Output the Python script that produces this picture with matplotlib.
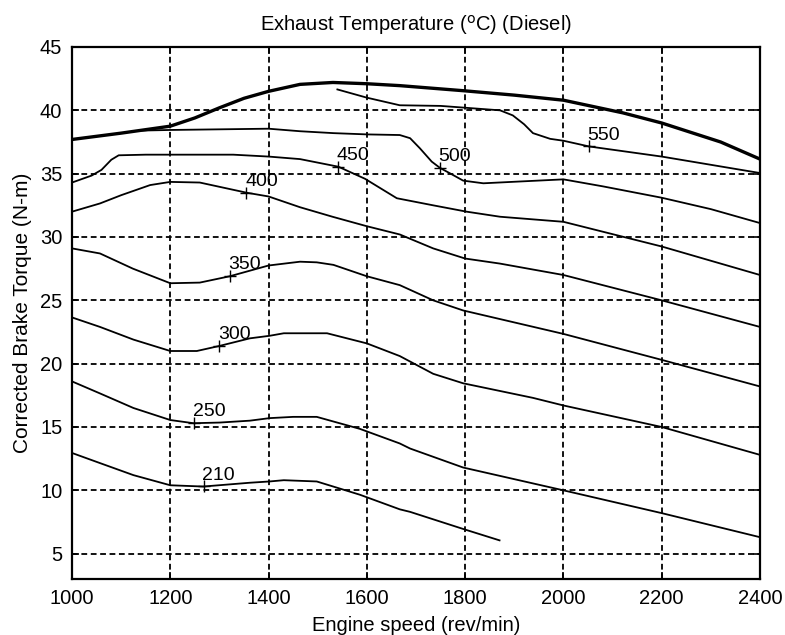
import numpy as np
import matplotlib
matplotlib.use("Agg")
import matplotlib.pyplot as plt

plt.rcParams['font.family'] = ['Liberation Sans', 'DejaVu Sans']

# full-load (max torque) envelope
env_rpm = [1000, 1100, 1200, 1250, 1300, 1350, 1400, 1464, 1531, 1600, 1667, 1796, 1900, 2000, 2121, 2200, 2320, 2400]
env_torque = [37.7, 38.2, 38.75, 39.4, 40.2, 40.95, 41.5, 42.05, 42.2, 42.1, 41.95, 41.55, 41.2, 40.8, 39.8, 39.0, 37.5, 36.15]

# exhaust temperature iso-lines (deg C)
t210_rpm = [1000, 1057, 1125, 1200, 1267, 1362, 1402, 1431, 1498, 1586, 1667, 1688, 1796, 1870]
t210_torque = [12.95, 12.15, 11.2, 10.4, 10.3, 10.6, 10.7, 10.8, 10.7, 9.65, 8.5, 8.3, 6.95, 6.05]

t250_rpm = [1000, 1057, 1125, 1200, 1247, 1300, 1362, 1402, 1450, 1498, 1586, 1667, 1688, 1796, 2000, 2200, 2400]
t250_torque = [18.6, 17.65, 16.5, 15.55, 15.3, 15.35, 15.5, 15.7, 15.8, 15.8, 14.85, 13.7, 13.3, 11.8, 10.0, 8.2, 6.3]

t300_rpm = [1000, 1057, 1125, 1200, 1254, 1300, 1362, 1402, 1431, 1519, 1600, 1667, 1735, 1796, 1938, 2000, 2200, 2400]
t300_torque = [23.65, 22.9, 21.9, 21.0, 21.0, 21.4, 22.0, 22.2, 22.4, 22.4, 21.6, 20.6, 19.2, 18.45, 17.3, 16.7, 15.0, 12.8]

t350_rpm = [1000, 1057, 1124, 1200, 1260, 1321, 1400, 1464, 1498, 1532, 1600, 1667, 1735, 1796, 2000, 2200, 2400]
t350_torque = [29.1, 28.7, 27.5, 26.35, 26.4, 26.9, 27.75, 28.05, 28.0, 27.8, 26.9, 26.2, 25.0, 24.2, 22.35, 20.3, 18.2]

t400_rpm = [1000, 1057, 1100, 1159, 1200, 1260, 1355, 1400, 1464, 1530, 1600, 1667, 1735, 1800, 1871, 2000, 2200, 2400]
t400_torque = [32.0, 32.65, 33.3, 34.1, 34.35, 34.3, 33.5, 33.2, 32.35, 31.6, 30.85, 30.2, 29.1, 28.3, 27.9, 27.0, 25.0, 22.9]

t450_rpm = [1000, 1040, 1060, 1080, 1095, 1150, 1200, 1328, 1400, 1464, 1542, 1596, 1661, 1735, 1803, 1871, 2000, 2200, 2400]
t450_torque = [34.3, 34.85, 35.3, 36.1, 36.45, 36.5, 36.5, 36.5, 36.35, 36.15, 35.55, 34.6, 33.06, 32.5, 32.0, 31.6, 31.2, 29.25, 27.0]

t500_rpm = [1138, 1200, 1300, 1400, 1464, 1532, 1600, 1667, 1688, 1708, 1732, 1749, 1769, 1796, 1837, 1905, 2000, 2080, 2200, 2300, 2400]
t500_torque = [38.4, 38.45, 38.5, 38.55, 38.35, 38.2, 38.1, 38.05, 37.8, 37.0, 35.95, 35.45, 35.03, 34.45, 34.24, 34.37, 34.55, 34.0, 33.1, 32.2, 31.1]

t550_rpm = [1540, 1600, 1667, 1750, 1871, 1897, 1920, 1938, 1973, 2000, 2052, 2200, 2400]
t550_torque = [41.65, 41.0, 40.4, 40.35, 40.0, 39.6, 38.9, 38.2, 37.75, 37.6, 37.15, 36.35, 35.05]

levels = [210, 250, 300, 350, 400, 450, 500, 550]
level_rpm = [t210_rpm, t250_rpm, t300_rpm, t350_rpm, t400_rpm, t450_rpm, t500_rpm, t550_rpm]
level_torque = [t210_torque, t250_torque, t300_torque, t350_torque, t400_torque, t450_torque, t500_torque, t550_torque]
# engine speed at which each level is labelled
label_rpm = [1268, 1249, 1300, 1321, 1355, 1542, 1749, 2052]

fig = plt.figure(figsize=(7.85, 6.35), dpi=100)
ax = fig.add_axes([72 / 785, 1 - 579 / 635, 688 / 785, 532 / 635])

ax.plot(env_rpm, env_torque, color='black', lw=2.4, solid_capstyle='round')
for lev, xs, ys, xl in zip(levels, level_rpm, level_torque, label_rpm):
    ax.plot(xs, ys, color='black', lw=1.3)
    yl = np.interp(xl, xs, ys)
    ax.plot(xl, yl, marker='+', color='black', ms=8, mew=1.0)
    ax.annotate(str(lev), (xl, yl), xytext=(-1, 2), textcoords='offset points',
                ha='left', va='bottom', fontsize=14)

ax.set_xlim(1000, 2400)
ax.set_ylim(3, 45)
ax.set_xticks(np.arange(1000, 2401, 200))
ax.set_yticks(np.arange(5, 46, 5))
ax.grid(True, color='black', lw=1.3, linestyle=(0, (3.2, 2.0)))
ax.tick_params(direction='in', length=5, width=1.2, top=True, right=True,
               labelsize=14.5, pad=7)
for s in ax.spines.values():
    s.set_linewidth(1.6)

ax.set_title(r'Exhaust Temperature ($^{\mathrm{o}}$C) (Diesel)', fontsize=14.5, pad=12)
ax.set_xlabel('Engine speed (rev/min)', fontsize=14.5, labelpad=6)
ax.set_ylabel('Corrected Brake Torque (N-m)', fontsize=15, labelpad=6)

fig.savefig('out.png', dpi=100)
